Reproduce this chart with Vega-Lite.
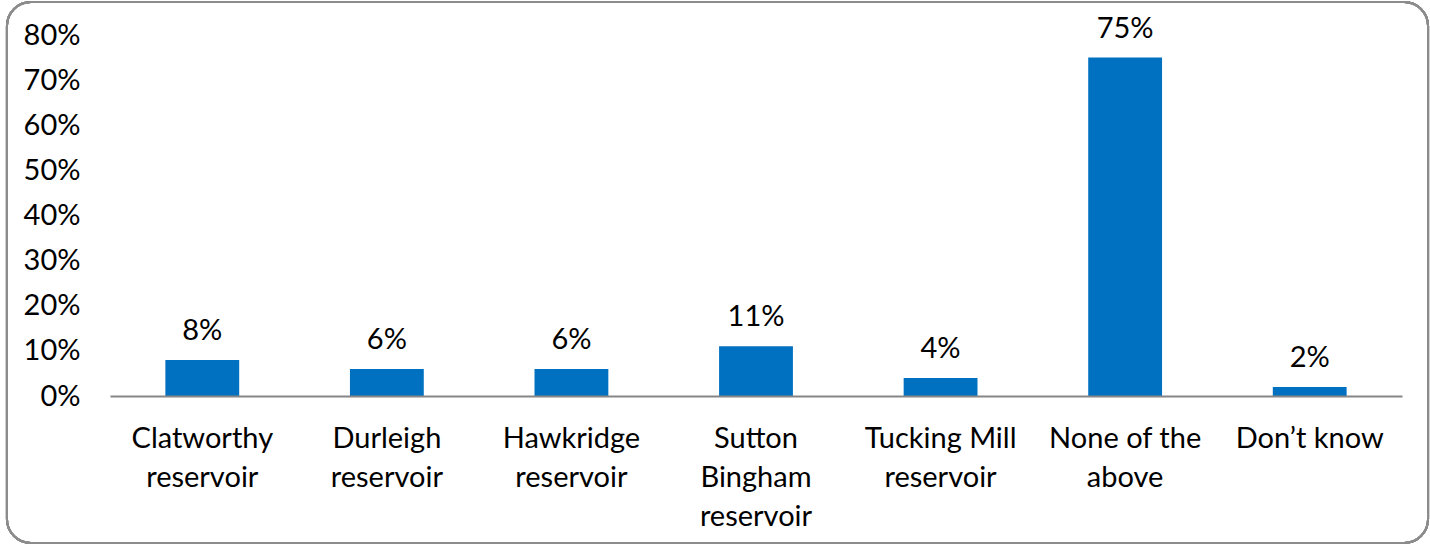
{
  "$schema": "https://vega.github.io/schema/vega-lite/v6.json",
  "width": 1292,
  "height": 361,
  "autosize": "none",
  "padding": {"left": 110, "top": 35, "right": 28, "bottom": 149},
  "background": "white",
  "config": {
    "view": {"stroke": null},
    "font": "Lato",
    "axis": {"labelFont": "Lato", "labelColor": "#000000"}
  },
  "data": {
    "values": [
      {"option": "Clatworthy reservoir", "share": 0.08},
      {"option": "Durleigh reservoir", "share": 0.06},
      {"option": "Hawkridge reservoir", "share": 0.06},
      {"option": "Sutton Bingham reservoir", "share": 0.11},
      {"option": "Tucking Mill reservoir", "share": 0.04},
      {"option": "None of the above", "share": 0.75},
      {"option": "Don’t know", "share": 0.02}
    ]
  },
  "encoding": {
    "x": {
      "field": "option",
      "type": "nominal",
      "sort": null,
      "scale": {
        "domain": ["Clatworthy reservoir", "Durleigh reservoir", "Hawkridge reservoir", "Sutton Bingham reservoir", "Tucking Mill reservoir", "None of the above", "Don’t know"],
        "paddingInner": 0.6,
        "paddingOuter": 0.3
      },
      "axis": {
        "title": null,
        "labelAngle": 0,
        "labelFontSize": 29,
        "labelLineHeight": 39,
        "labelPadding": 28,
        "labelBaseline": "top",
        "labelLimit": 300,
        "ticks": false,
        "domainColor": "#868686",
        "domainWidth": 2,
        "labelExpr": "datum.label == 'Sutton Bingham reservoir' ? ['Sutton', 'Bingham', 'reservoir'] : datum.label == 'Tucking Mill reservoir' ? ['Tucking Mill', 'reservoir'] : datum.label == 'None of the above' ? ['None of the', 'above'] : datum.label == 'Don’t know' ? datum.label : split(datum.label, ' ')"
      }
    }
  },
  "layer": [
    {
      "mark": {"type": "rect", "fillOpacity": 0, "stroke": "#8c8c8c", "strokeWidth": 2, "cornerRadius": 24, "clip": false},
      "encoding": {
        "x": {"datum": "Clatworthy reservoir", "bandPosition": -2.146},
        "x2": {"datum": "Don’t know", "bandPosition": 2.103},
        "y": {"datum": 0.8731},
        "y2": {"datum": -0.3258}
      }
    },
    {
      "mark": {"type": "bar", "color": "#0070C0"},
      "encoding": {
        "y": {
          "field": "share",
          "type": "quantitative",
          "scale": {"domain": [0, 0.8], "nice": false},
          "axis": {
            "title": null,
            "format": ".0%",
            "values": [0, 0.1, 0.2, 0.3, 0.4, 0.5, 0.6, 0.7, 0.8],
            "labelFontSize": 29,
            "labelPadding": 30,
            "ticks": false,
            "domain": false,
            "gridColor": "#D9D9D9",
            "gridWidth": 2
          }
        }
      }
    },
    {
      "mark": {"type": "text", "fontSize": 29, "dy": -14, "baseline": "bottom", "color": "#000000"},
      "encoding": {
        "y": {"field": "share", "type": "quantitative"},
        "text": {"field": "share", "type": "quantitative", "format": ".0%"}
      }
    }
  ]
}
